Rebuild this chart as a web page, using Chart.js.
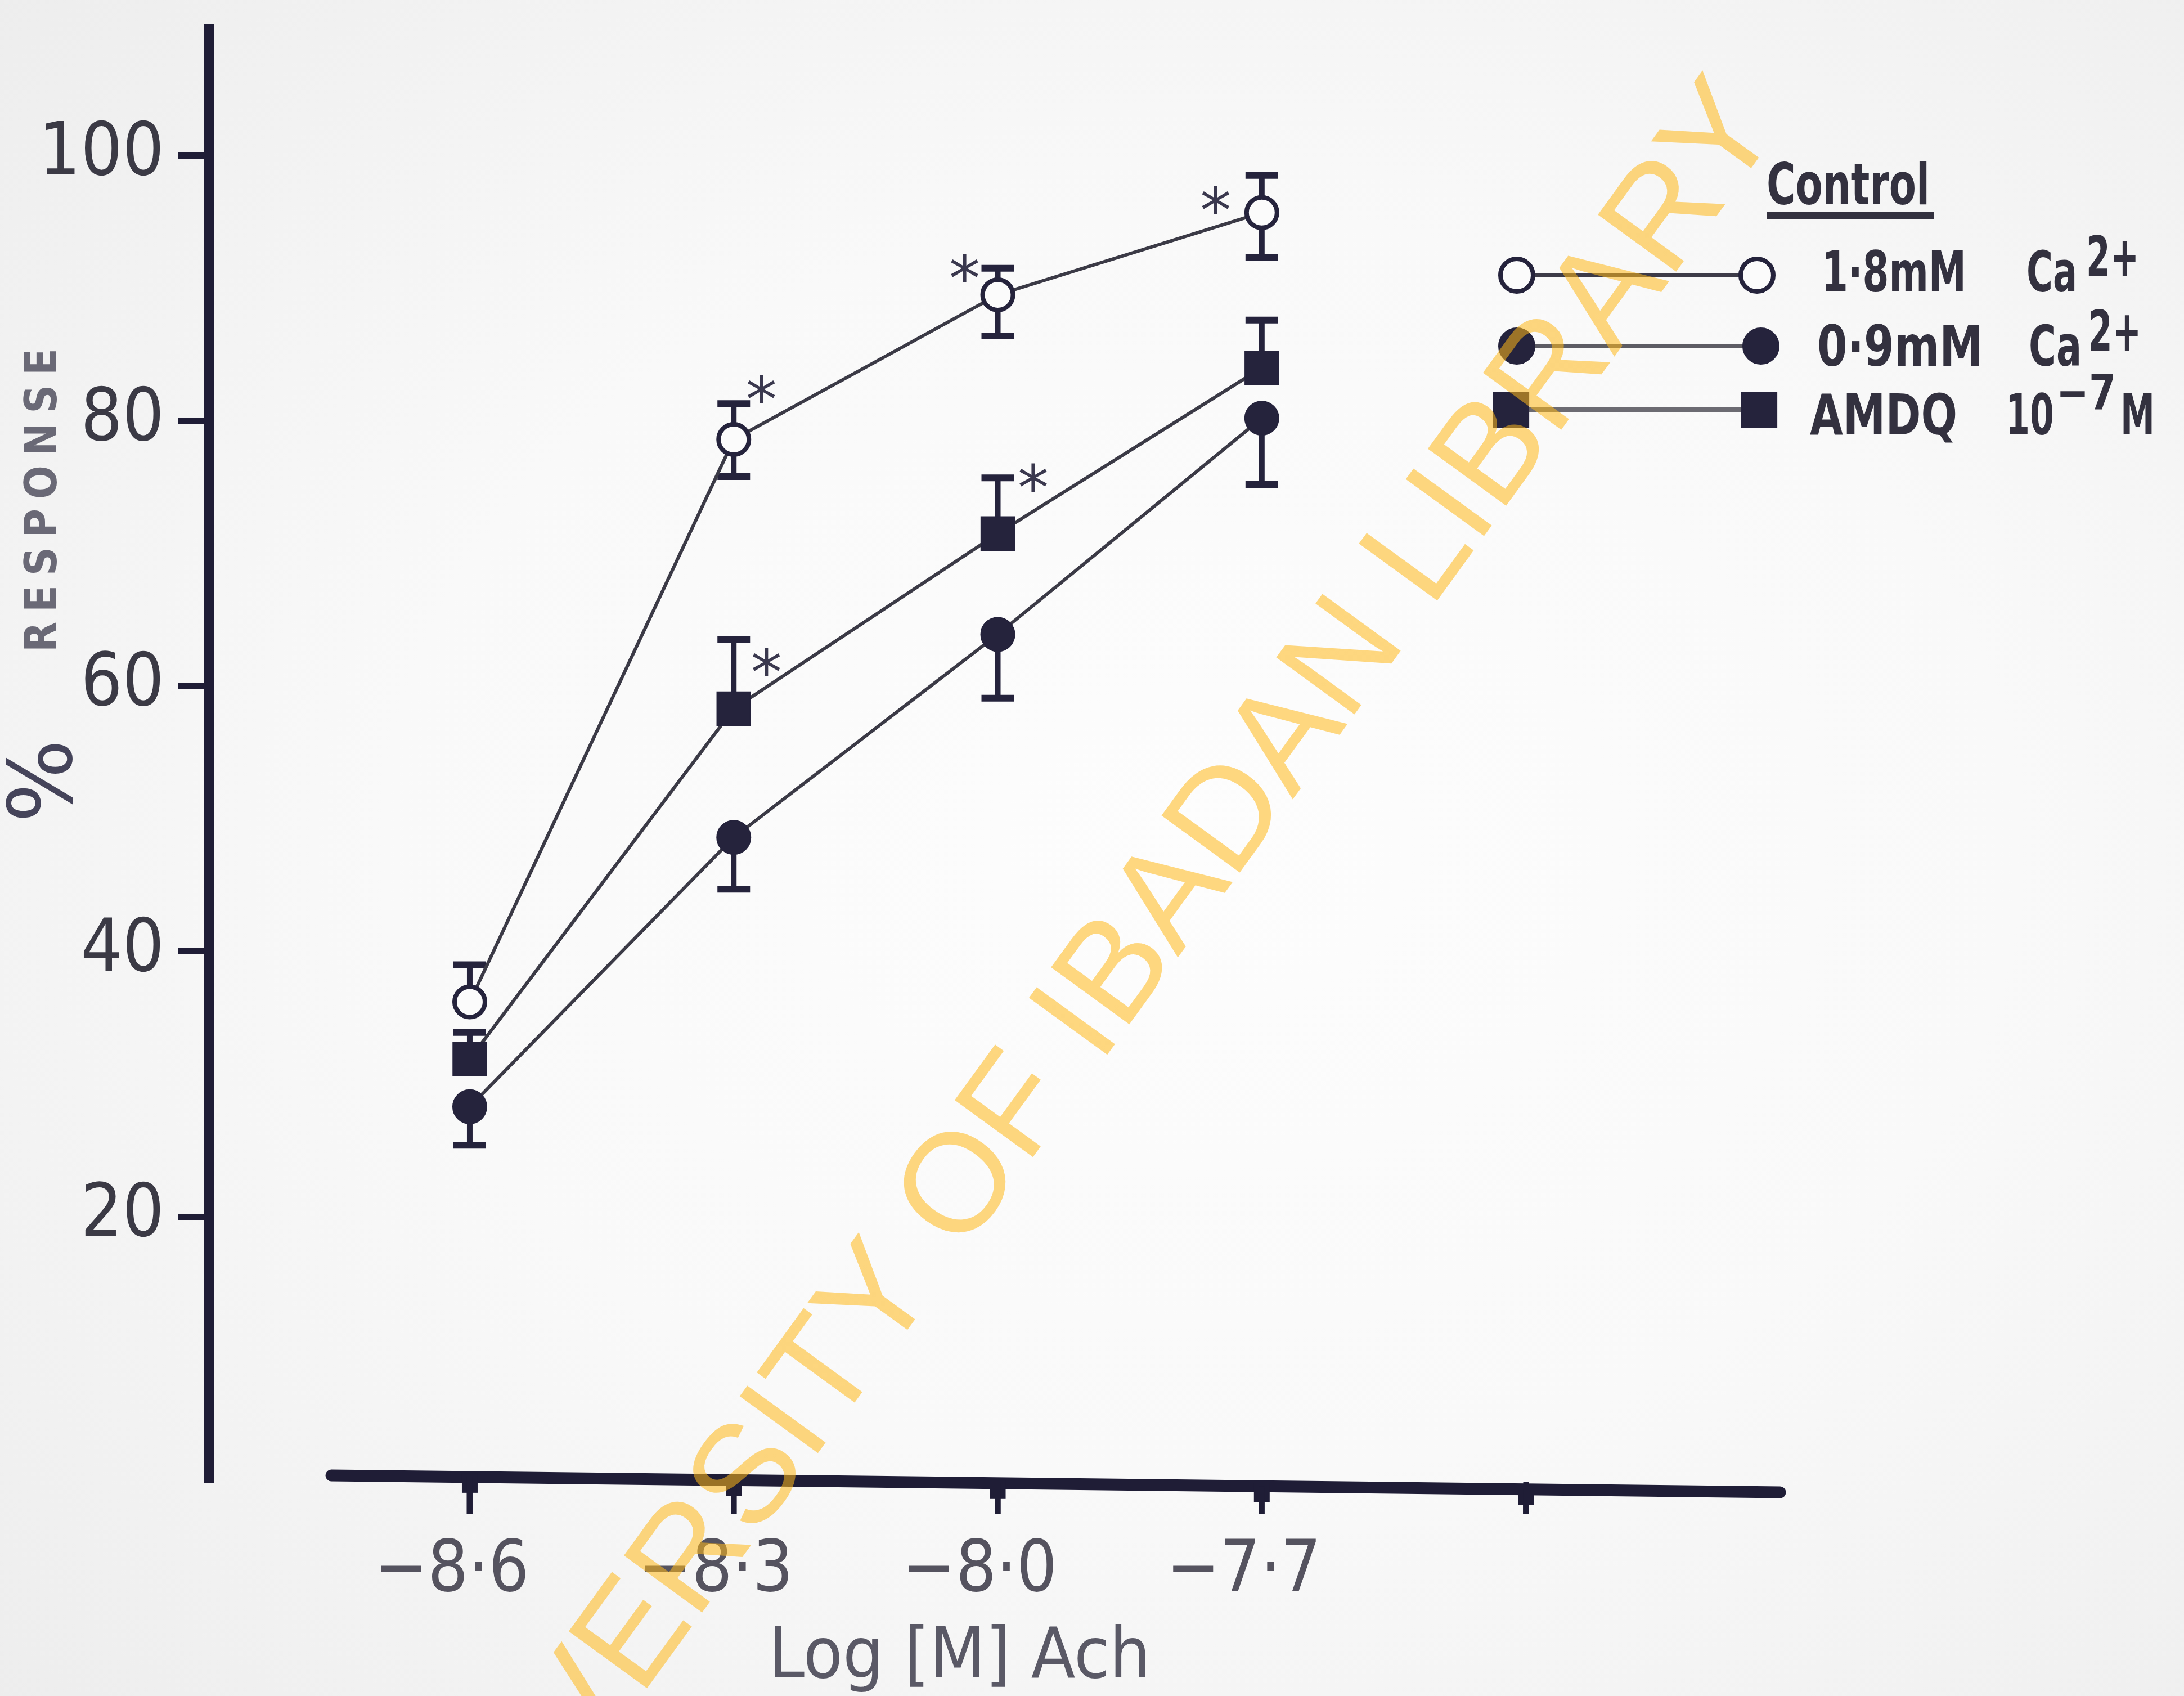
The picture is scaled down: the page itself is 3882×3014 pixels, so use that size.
<!DOCTYPE html>
<html><head><meta charset="utf-8">
<script src="https://cdn.jsdelivr.net/npm/chart.js@4.4.1/dist/chart.umd.min.js"></script>
<style>
html,body{margin:0;padding:0;}
body{width:3882px;height:3014px;overflow:hidden;background:radial-gradient(ellipse 75% 75% at 55% 50%, #fdfdfd 0%, #f9f9f9 50%, #ededed 100%);}
canvas{display:block;}
</style></head><body>
<canvas id="c" width="3882" height="3014"></canvas>
<script>
// ---------- data ----------
const doses = [-8.6, -8.3, -8.0, -7.7];
const controlMean = [36.2, 78.6, 89.5, 95.7];
const controlErrUp = [2.8, 2.7, 2.0, 2.8];
const controlErrDown = [0, 2.8, 3.1, 3.4];
const calciumMean = [28.3, 48.6, 63.9, 80.2];
const calciumErrUp = [0, 0, 0, 0];
const calciumErrDown = [2.9, 3.9, 4.8, 5.0];
const amdqMean = [31.9, 58.3, 71.5, 84.0];
const amdqErrUp = [2.0, 5.2, 4.2, 3.6];
const amdqErrDown = [0, 0, 0, 0];
const controlSig = [false, true, true, true];
const calciumSig = [false, false, false, false];
const amdqSig = [false, true, true, false];
const xTickValues = [-8.6, -8.3, -8.0, -7.7, -7.4];
const xTickLabels = ['−8·6', '−8·3', '−8·0', '−7·7', ''];
const yTickValues = [20, 40, 60, 80, 100];
const seriesLabels = ['1·8mM Ca²⁺', '0·9mM Ca²⁺', 'AMDQ 10⁻⁷M'];
const xTitle = 'Log [M] Ach';
const yTitleSymbol = '%';
const yTitleWord = 'RESPONSE';
const legendHeading = 'Control';
const watermark = 'UNIVERSITY OF IBADAN LIBRARY';

// ---------- styles ----------
const FN = '"DejaVu Sans Condensed", "Liberation Sans", sans-serif';
const AXIS = '#1f1d36';
const MARK = '#25233c';
const LINE = '#3b3a46';
const BG = '#fbfbfb';
const starOffsets = [
  [[0,0],[49,-96],[-59,-54],[-82,-29]],
  [[0,0],[0,0],[0,0],[0,0]],
  [[0,0],[58,-90],[63,-106],[0,0]]
];
const errUps = [controlErrUp, calciumErrUp, amdqErrUp];
const errDowns = [controlErrDown, calciumErrDown, amdqErrDown];
const sigs = [controlSig, calciumSig, amdqSig];
const means = [controlMean, calciumMean, amdqMean];

const toPts = arr => doses.map((x, i) => ({x: x, y: arr[i]}));

function drawFit(ctx, text, x, baseline, font, width) {
  ctx.font = font;
  const w = ctx.measureText(text).width;
  const sx = width / w;
  ctx.save();
  ctx.translate(x, baseline);
  ctx.scale(sx, 1);
  ctx.textAlign = 'left'; ctx.textBaseline = 'alphabetic';
  ctx.fillText(text, 0, 0);
  ctx.restore();
}

const errorBars = {
  id: 'errorBars',
  beforeDatasetsDraw(chart) {
    const ctx = chart.ctx, ys = chart.scales.y;
    ctx.save();
    ctx.strokeStyle = MARK;
    ctx.lineCap = 'butt';
    chart.data.datasets.forEach((ds, di) => {
      const meta = chart.getDatasetMeta(di);
      meta.data.forEach((pt, j) => {
        const m = means[di][j];
        const ends = [];
        if (errUps[di][j] > 0) ends.push(ys.getPixelForValue(m + errUps[di][j]));
        if (errDowns[di][j] > 0) ends.push(ys.getPixelForValue(m - errDowns[di][j]));
        ends.forEach(e => {
          ctx.lineWidth = 10;
          ctx.beginPath(); ctx.moveTo(pt.x, pt.y); ctx.lineTo(pt.x, e); ctx.stroke();
          ctx.lineWidth = 12;
          ctx.beginPath(); ctx.moveTo(pt.x - 29, e); ctx.lineTo(pt.x + 29, e); ctx.stroke();
        });
      });
    });
    ctx.restore();
  }
};

const decor = {
  id: 'decor',
  afterDraw(chart) {
    const ctx = chart.ctx, xs = chart.scales.x;
    const ca = chart.chartArea;
    ctx.save();
    // x axis line (slightly slanted as in the hand-drawn original)
    const x0 = 589, y0 = ca.bottom - 12, x1 = ca.right, y1 = ca.bottom + 18;
    ctx.strokeStyle = AXIS; ctx.lineWidth = 21; ctx.lineCap = 'round';
    ctx.beginPath(); ctx.moveTo(x0, y0); ctx.lineTo(x1, y1); ctx.stroke();
    ctx.fillStyle = AXIS;
    xTickValues.forEach(v => {
      const px = xs.getPixelForValue(v);
      const ly = y0 + (y1 - y0) * (px - x0) / (x1 - x0);
      ctx.fillRect(px - 14, ly - 6, 28, 34);
      ctx.fillRect(px - 5, ly, 10, ca.bottom + 57 - ly);
    });
    // significance stars
    ctx.fillStyle = '#3a384e';
    ctx.font = '110px "DejaVu Sans", sans-serif';
    ctx.textAlign = 'center'; ctx.textBaseline = 'alphabetic';
    chart.data.datasets.forEach((ds, di) => {
      const meta = chart.getDatasetMeta(di);
      meta.data.forEach((pt, j) => {
        if (!sigs[di][j]) return;
        const o = starOffsets[di][j];
        ctx.fillText('*', pt.x + o[0], pt.y + o[1] + 64);
      });
    });
    // x title
    ctx.fillStyle = '#5a5966';
    drawFit(ctx, xTitle, 1366, 2981, '124px ' + FN, 679);
    // y title
    ctx.save();
    ctx.translate(86, 1388); ctx.rotate(-Math.PI / 2);
    ctx.fillStyle = '#45445a';
    ctx.font = '156px "DejaVu Sans", sans-serif';
    ctx.textAlign = 'center'; ctx.textBaseline = 'middle';
    ctx.fillText(yTitleSymbol, 0, 0);
    ctx.restore();
    ctx.save();
    ctx.translate(80, 889); ctx.rotate(-Math.PI / 2);
    ctx.fillStyle = '#6a6976';
    ctx.font = 'bold 78px ' + FN;
    ctx.textAlign = 'left'; ctx.textBaseline = 'middle';
    const chars = yTitleWord.split('');
    const widths = chars.map(c => ctx.measureText(c).width);
    const W = widths.reduce((a, b) => a + b, 0);
    const gap = (540 - W) / (chars.length - 1);
    let cx = -270;
    chars.forEach((c, k) => { ctx.fillText(c, cx, 0); cx += widths[k] + gap; });
    ctx.restore();
    // legend
    ctx.fillStyle = '#33313f';
    drawFit(ctx, legendHeading, 3140, 363, 'bold 102px ' + FN, 290);
    ctx.fillRect(3140, 376, 298, 13);
    const rows = [
      {y: 489, lx: 2696, rx: 3123, lw: 6, lc: '#3d3b48',
       parts: [{t: '1·8mM', x: 3238, w: 257, b: 518, s: 100}, {t: 'Ca', x: 3602, w: 90, b: 518, s: 100}, {t: '2+', x: 3708, w: 94, b: 491, s: 100}]},
      {y: 615, lx: 2696, rx: 3130, lw: 8, lc: '#5d5c64',
       parts: [{t: '0·9mM', x: 3230, w: 294, b: 650, s: 100}, {t: 'Ca', x: 3606, w: 94, b: 650, s: 100}, {t: '2+', x: 3712, w: 94, b: 623, s: 100}]},
      {y: 728, lx: 2686, rx: 3127, lw: 9, lc: '#6c6b72',
       parts: [{t: 'AMDQ', x: 3217, w: 262, b: 772, s: 100}, {t: '10', x: 3565, w: 86, b: 772, s: 100}, {t: '−7', x: 3655, w: 106, b: 728, s: 88}, {t: 'M', x: 3769, w: 61, b: 772, s: 100}]}
    ];
    rows.forEach((r, di) => {
      const ds = chart.data.datasets[di];
      ctx.strokeStyle = r.lc; ctx.lineWidth = r.lw; ctx.lineCap = 'butt';
      ctx.beginPath(); ctx.moveTo(r.lx, r.y); ctx.lineTo(r.rx, r.y); ctx.stroke();
      [r.lx, r.rx].forEach(px => {
        ctx.fillStyle = ds.pointBackgroundColor;
        ctx.strokeStyle = ds.pointBorderColor;
        ctx.lineWidth = ds.pointBorderWidth;
        Chart.helpers.drawPoint(ctx, {pointStyle: ds.pointStyle, radius: ds.pointRadius + 2, rotation: 0, borderWidth: ds.pointBorderWidth}, px, r.y);
      });
      ctx.fillStyle = '#33313f';
      r.parts.forEach(p => drawFit(ctx, p.t, p.x, p.b, 'bold ' + p.s + 'px ' + FN, p.w));
    });
    // watermark
    ctx.save();
    ctx.translate(787, 3500);
    ctx.rotate(-54 * Math.PI / 180);
    ctx.fillStyle = 'rgba(255,184,24,0.55)';
    ctx.font = '250px "Liberation Sans", Arial, sans-serif';
    ctx.textAlign = 'left'; ctx.textBaseline = 'alphabetic';
    ctx.fillText(watermark, 0, 0);
    ctx.restore();
    ctx.restore();
  }
};

new Chart(document.getElementById('c'), {
  type: 'line',
  data: {
    datasets: [
      {label: seriesLabels[0], data: toPts(controlMean), borderColor: LINE, borderWidth: 6, tension: 0,
       pointStyle: 'circle', pointRadius: 27, pointBorderWidth: 8, pointBorderColor: MARK, pointBackgroundColor: BG, clip: false},
      {label: seriesLabels[1], data: toPts(calciumMean), borderColor: LINE, borderWidth: 6, tension: 0,
       pointStyle: 'circle', pointRadius: 30, pointBorderWidth: 2, pointBorderColor: MARK, pointBackgroundColor: MARK, clip: false},
      {label: seriesLabels[2], data: toPts(amdqMean), borderColor: LINE, borderWidth: 6, tension: 0,
       pointStyle: 'rect', pointRadius: 42, pointBorderWidth: 2, pointBorderColor: MARK, pointBackgroundColor: MARK, clip: false}
    ]
  },
  options: {
    responsive: false,
    devicePixelRatio: 1,
    animation: false,
    events: [],
    layout: {padding: {left: 0, top: 33, right: 718, bottom: 0}},
    plugins: {legend: {display: false}, tooltip: {enabled: false}, title: {display: false}},
    scales: {
      x: {
        type: 'linear', min: -8.8966, max: -7.1111,
        afterBuildTicks: s => { s.ticks = xTickValues.map(v => ({value: v})); },
        afterFit: s => { s.height = 380; },
        border: {display: false},
        grid: {display: true, drawOnChartArea: false, drawTicks: true, tickLength: 57, tickWidth: 10, tickColor: AXIS},
        ticks: {
          autoSkip: false, maxRotation: 0, padding: 40, labelOffset: -32,
          color: '#55535f', font: {family: FN, size: 126, lineHeight: 1},
          callback: v => xTickLabels[xTickValues.findIndex(t => Math.abs(t - v) < 1e-6)]
        }
      },
      y: {
        type: 'linear', min: 0, max: 109.56,
        afterBuildTicks: s => { s.ticks = yTickValues.map(v => ({value: v})); },
        afterFit: s => { s.width = 371; },
        border: {display: true, width: 18, color: AXIS},
        grid: {display: true, drawOnChartArea: false, drawTicks: true, tickLength: 54, tickWidth: 11, tickColor: AXIS},
        ticks: {padding: 25, color: '#3b3a45', font: {family: FN, size: 130, lineHeight: 0.4}}
      }
    }
  },
  plugins: [errorBars, decor]
});
</script></body></html>
